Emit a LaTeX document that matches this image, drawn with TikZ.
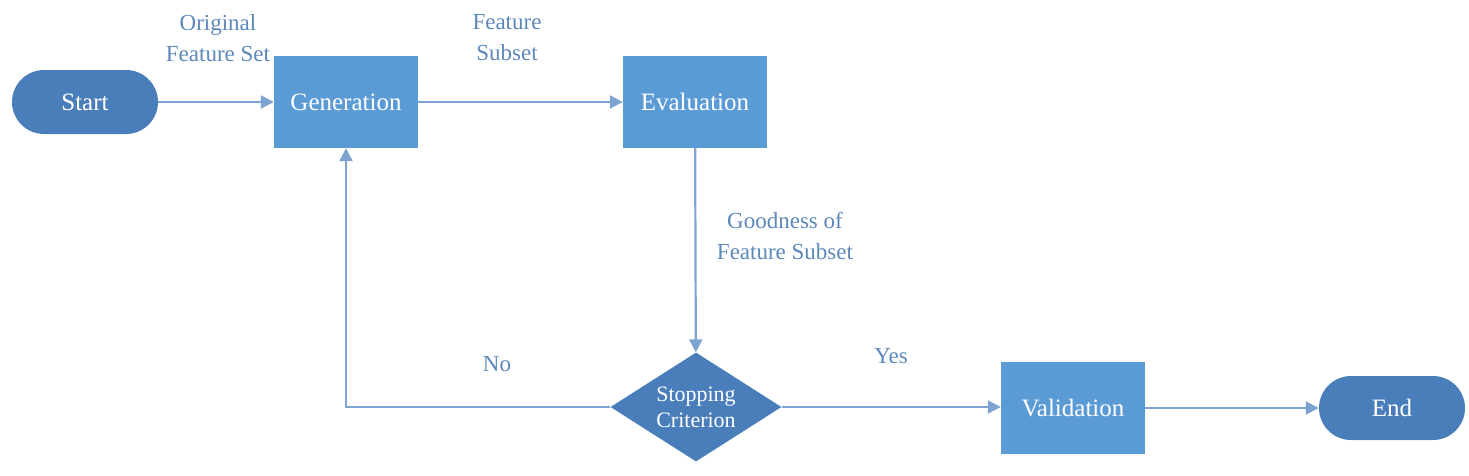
\documentclass[tikz,border=0pt]{standalone}
\usepackage{fontspec}
\setmainfont{Liberation Serif}
\newfontfamily\tnr{Liberation Serif}
\usetikzlibrary{shapes.geometric,arrows.meta}
\definecolor{boxblue}{HTML}{5B9BD5}
\definecolor{darkblue}{HTML}{4A7EBB}
\definecolor{lineblue}{HTML}{7DA3D0}
\definecolor{labelblue}{HTML}{5C88BA}
\tikzset{
  x=1pt, y=-1pt,
  every node/.style={font=\tnr\fontsize{25}{30}\selectfont},
  procbox/.style={draw=none, fill=boxblue, text=white, minimum width=144pt, minimum height=92pt, inner sep=0pt},
  termbox/.style={draw=none, fill=darkblue, text=white, minimum width=146pt, minimum height=64pt, rounded corners=32pt, inner sep=0pt},
  decbox/.style={diamond, aspect=1.57, draw=none, fill=darkblue, text=white, minimum width=171pt, minimum height=109pt, inner sep=0pt, align=center, font=\tnr\fontsize{22}{26}\selectfont},
  conn/.style={draw=lineblue, line width=2.2pt, -{Triangle[length=13pt,width=13pt]}},
  lbl/.style={text=labelblue, align=center, font=\tnr\fontsize{23}{31}\selectfont}
}
\begin{document}
\begin{tikzpicture}
\useasboundingbox (0,0) rectangle (1469,475);
\node[termbox] (start) at (85,102) {Start};
\node[procbox] (gen) at (346,102) {Generation};
\node[procbox] (eval) at (695,102) {Evaluation};
\node[decbox] (stop) at (696,407) {Stopping\\Criterion};
\node[procbox] (val) at (1073,408) {Validation};
\node[termbox] (end) at (1392,408) {End};
\coordinate (corner) at (346,407);

\draw[conn] (start) -- (gen);
\draw[conn] (gen) -- (eval);
\draw[conn] (eval) -- (stop);
\draw[conn] (stop.west) -- (corner) -- (gen.south);
\draw[conn] (stop.east) -- (val.west |- stop.east);
\draw[conn] (val) -- (end);

\node[lbl] (l1) at (218,38) {Original\\Feature Set};
\node[lbl] (l2) at (507,38) {Feature\\Subset};
\node[lbl] (l3) at (785,236) {Goodness of\\Feature Subset};
\node[lbl] (l4) at (497,364) {No};
\node[lbl] (l5) at (891,356) {Yes};
\end{tikzpicture}
\end{document}
